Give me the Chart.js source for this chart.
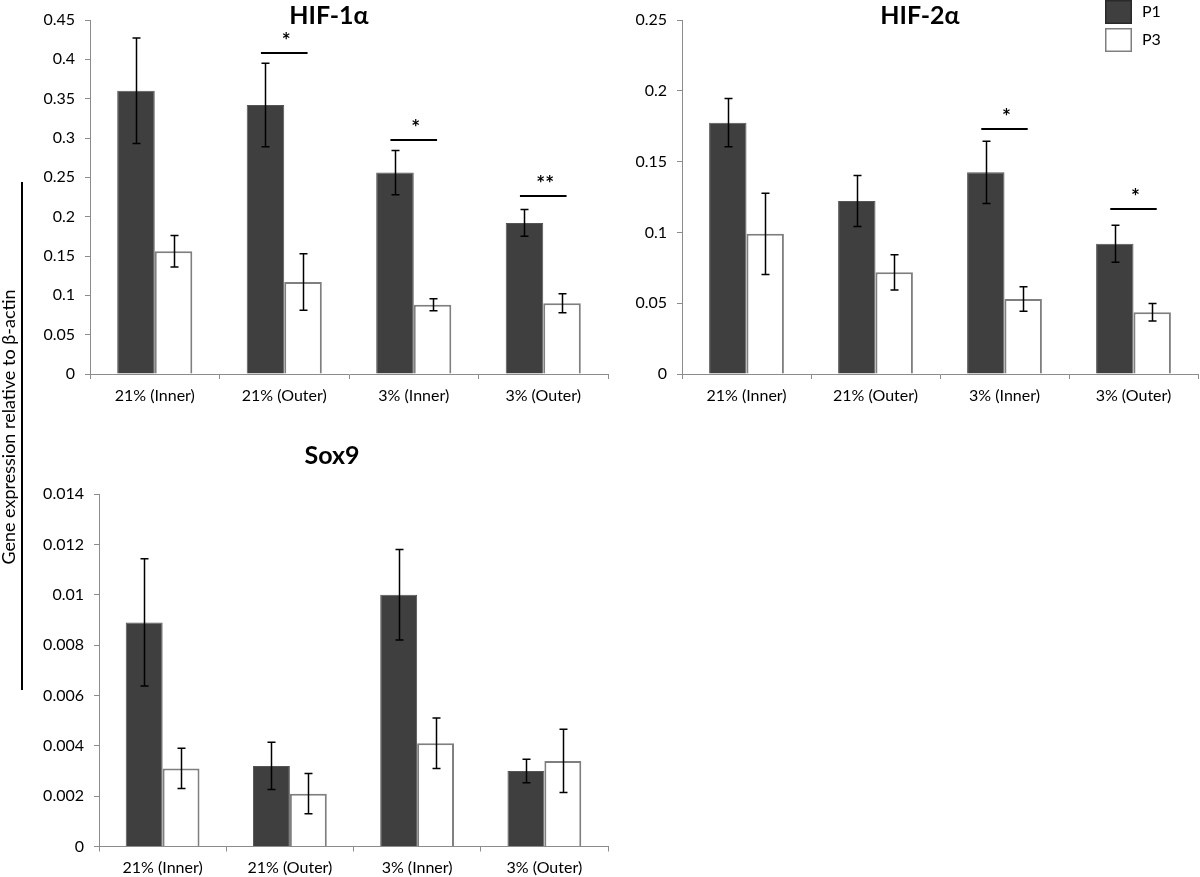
<!DOCTYPE html>
<html>
<head>
<meta charset="utf-8">
<script src="https://cdn.jsdelivr.net/npm/chart.js@4.4.1/dist/chart.umd.min.js"></script>
<style>
  html, body { margin: 0; padding: 0; background: #fff; }
  #wrap { position: relative; width: 1200px; height: 877px; overflow: hidden; background: #fff; }
  .cv { position: absolute; }
  #ylab { position: absolute; left: 8px; top: 427px; transform: translate(-50%, -50%) rotate(-90deg);
          white-space: nowrap; font: 18px Lato, "Open Sans", "Noto Sans", sans-serif; color: #000; }
  #yline { position: absolute; left: 21px; top: 182px; width: 2px; height: 508px; background: #000; }
</style>
</head>
<body>
<div id="wrap">
  <div class="cv" style="left:0;top:0;"><canvas id="c1" width="620" height="420"></canvas></div>
  <div class="cv" style="left:600px;top:0;"><canvas id="c2" width="600" height="420"></canvas></div>
  <div class="cv" style="left:0;top:430px;"><canvas id="c3" width="620" height="447"></canvas></div>
  <div id="yline"></div>
  <div id="ylab">Gene expression relative to β-actin</div>
</div>
<script>
// ---------------- DATA ----------------
const categories = ['21% (Inner)', '21% (Outer)', '3% (Inner)', '3% (Outer)'];
const seriesNames = ['P1', 'P3'];

// HIF-1α
const hif1P1 = [0.360, 0.342, 0.256, 0.192];
const hif1P1Err = [0.067, 0.053, 0.028, 0.017];
const hif1P3 = [0.156, 0.117, 0.088, 0.090];
const hif1P3Err = [0.020, 0.036, 0.0075, 0.012];
const hif1SigLevel = [null, 0.408, 0.298, 0.226];
const hif1SigMark = ['', '*', '*', '**'];
const hif1TickValues = [0, 0.05, 0.1, 0.15, 0.2, 0.25, 0.3, 0.35, 0.4, 0.45];
const hif1TickLabels = ['0', '0.05', '0.1', '0.15', '0.2', '0.25', '0.3', '0.35', '0.4', '0.45'];

// HIF-2α
const hif2P1 = [0.1775, 0.1222, 0.1424, 0.0920];
const hif2P1Err = [0.017, 0.018, 0.022, 0.013];
const hif2P3 = [0.0990, 0.0718, 0.0530, 0.0436];
const hif2P3Err = [0.0287, 0.0124, 0.0087, 0.0062];
const hif2SigLevel = [null, null, 0.1733, 0.1163];
const hif2SigMark = ['', '', '*', '*'];
const hif2TickValues = [0, 0.05, 0.1, 0.15, 0.2, 0.25];
const hif2TickLabels = ['0', '0.05', '0.1', '0.15', '0.2', '0.25'];

// Sox9
const sox9P1 = [0.0089, 0.0032, 0.0100, 0.0030];
const sox9P1Err = [0.00253, 0.00094, 0.0018, 0.00047];
const sox9P3 = [0.0031, 0.0021, 0.0041, 0.0034];
const sox9P3Err = [0.0008, 0.0008, 0.0010, 0.00126];
const sox9TickValues = [0, 0.002, 0.004, 0.006, 0.008, 0.01, 0.012, 0.014];
const sox9TickLabels = ['0', '0.002', '0.004', '0.006', '0.008', '0.01', '0.012', '0.014'];

const titles = ['HIF-1α', 'HIF-2α', 'Sox9'];
const yAxisTitle = 'Gene expression relative to β-actin';

// ---------------- STYLE ----------------
const FONT = 'Lato, "Open Sans", "Noto Sans", sans-serif';
Chart.defaults.font.family = FONT;
Chart.defaults.color = '#000';
const AXIS = '#8c8c8c';

// ---------------- PLUGINS ----------------
const errorBarPlugin = {
  id: 'errorBars',
  afterDatasetsDraw(chart, args, opts) {
    const ctx = chart.ctx, y = chart.scales.y;
    ctx.save();
    ctx.strokeStyle = '#000';
    ctx.lineWidth = 1.5;
    chart.data.datasets.forEach((ds, d) => {
      const meta = chart.getDatasetMeta(d);
      meta.data.forEach((el, i) => {
        const v = ds.data[i], e = opts.errors[d][i];
        const yt = y.getPixelForValue(v + e), yb = y.getPixelForValue(v - e);
        const x = Math.round(el.x) + 0.5;
        ctx.beginPath();
        ctx.moveTo(x, yt); ctx.lineTo(x, yb);
        ctx.moveTo(x - 4, yt); ctx.lineTo(x + 4, yt);
        ctx.moveTo(x - 4, yb); ctx.lineTo(x + 4, yb);
        ctx.stroke();
      });
    });
    ctx.restore();
  }
};

const sigPlugin = {
  id: 'sig',
  afterDatasetsDraw(chart, args, opts) {
    if (!opts.levels) return;
    const ctx = chart.ctx, xs = chart.scales.x, y = chart.scales.y;
    const cw = (xs.right - xs.left) / chart.data.labels.length;
    ctx.save();
    ctx.strokeStyle = '#000';
    ctx.fillStyle = '#000';
    ctx.lineWidth = 2;
    ctx.font = 'bold 21px ' + FONT;
    ctx.textAlign = 'center';
    ctx.textBaseline = 'alphabetic';
    opts.levels.forEach((lv, i) => {
      if (lv === null) return;
      const cx = xs.getPixelForValue(i);
      const py = Math.round(y.getPixelForValue(lv));
      ctx.beginPath();
      ctx.moveTo(cx - cw * 0.18, py);
      ctx.lineTo(cx + cw * 0.18, py);
      ctx.stroke();
      ctx.fillText(opts.marks[i], cx + 2, py - 5);
    });
    ctx.restore();
  }
};

const titlePlugin = {
  id: 'ctitle',
  afterDraw(chart, args, opts) {
    const ctx = chart.ctx;
    ctx.save();
    ctx.font = 'bold 25px ' + FONT;
    ctx.fillStyle = '#000';
    ctx.textAlign = 'center';
    ctx.textBaseline = 'middle';
    ctx.fillText(opts.text, opts.x, opts.y);
    ctx.restore();
  }
};

const legendPlugin = {
  id: 'boxLegend',
  afterDraw(chart, args, opts) {
    if (!opts.show) return;
    const ctx = chart.ctx;
    ctx.save();
    chart.data.datasets.forEach((ds, d) => {
      const bx = opts.x, by = opts.y + d * 28;
      ctx.fillStyle = ds.backgroundColor;
      ctx.fillRect(bx, by, 27, 24);
      ctx.strokeStyle = d === 0 ? '#2a2a2a' : '#7f7f7f';
      ctx.lineWidth = 1.5;
      ctx.strokeRect(bx + 0.75, by + 0.75, 25.5, 22.5);
      ctx.fillStyle = '#000';
      ctx.font = '16px ' + FONT;
      ctx.textAlign = 'left';
      ctx.textBaseline = 'middle';
      ctx.fillText(ds.label, bx + 37, by + 12);
    });
    ctx.restore();
  }
};

// ---------------- BUILDERS ----------------
function makeDatasets(p1, p3) {
  return [
    { label: seriesNames[0], data: p1, backgroundColor: '#3f3f3f', borderColor: '#555555', borderWidth: 1,
      categoryPercentage: 0.58, barPercentage: 1.0 },
    { label: seriesNames[1], data: p3, backgroundColor: '#ffffff', borderColor: '#7f7f7f', borderWidth: 2,
      categoryPercentage: 0.58, barPercentage: 1.0 }
  ];
}

function makeChart(id, p1, p3, errs, tickValues, tickLabels, layout, extra) {
  return new Chart(document.getElementById(id), {
    type: 'bar',
    data: { labels: categories, datasets: makeDatasets(p1, p3) },
    options: {
      responsive: false,
      animation: false,
      events: [],
      layout: { padding: layout.padding },
      plugins: {
        legend: { display: false },
        tooltip: { enabled: false },
        title: { display: false },
        errorBars: { errors: errs },
        sig: extra.sig || {},
        ctitle: extra.title,
        boxLegend: extra.legend || { show: false }
      },
      scales: {
        x: {
          offset: true,
          grid: { display: true, offset: true, drawOnChartArea: false, drawTicks: true, tickLength: 5, color: AXIS, lineWidth: 1 },
          border: { display: true, color: AXIS, width: 1 },
          ticks: { color: '#000', font: { size: 16 }, padding: 7, maxRotation: 0, autoSkip: false },
          afterFit: s => { s.height = layout.xHeight; }
        },
        y: {
          min: 0, max: tickValues[tickValues.length - 1],
          grid: { drawOnChartArea: false, drawTicks: true, tickLength: 5, color: AXIS, lineWidth: 1 },
          border: { display: true, color: AXIS, width: 1 },
          ticks: { color: '#000', font: { size: 16 }, padding: 10,
                   callback: (v) => tickLabels[tickValues.indexOf(v)] },
          afterBuildTicks: s => { s.ticks = tickValues.map(v => ({ value: v })); },
          afterFit: s => { s.width = layout.yWidth; }
        }
      }
    },
    plugins: [errorBarPlugin, sigPlugin, titlePlugin, legendPlugin]
  });
}

makeChart('c1', hif1P1, hif1P3, [hif1P1Err, hif1P3Err], hif1TickValues, hif1TickLabels,
  { padding: { left: 0, top: 20, right: 12, bottom: 0 }, yWidth: 90, xHeight: 46 },
  { sig: { levels: hif1SigLevel, marks: hif1SigMark }, title: { text: titles[0], x: 329, y: 16 } });

makeChart('c2', hif2P1, hif2P3, [hif2P1Err, hif2P3Err], hif2TickValues, hif2TickLabels,
  { padding: { left: 0, top: 20, right: 2, bottom: 0 }, yWidth: 82, xHeight: 46 },
  { sig: { levels: hif2SigLevel, marks: hif2SigMark }, title: { text: titles[1], x: 320, y: 16 },
    legend: { show: true, x: 505, y: 0 } });

makeChart('c3', sox9P1, sox9P3, [sox9P1Err, sox9P3Err], sox9TickValues, sox9TickLabels,
  { padding: { left: 0, top: 64, right: 12, bottom: 0 }, yWidth: 99, xHeight: 30.5 },
  { title: { text: titles[2], x: 332, y: 26 } });
</script>
</body>
</html>
